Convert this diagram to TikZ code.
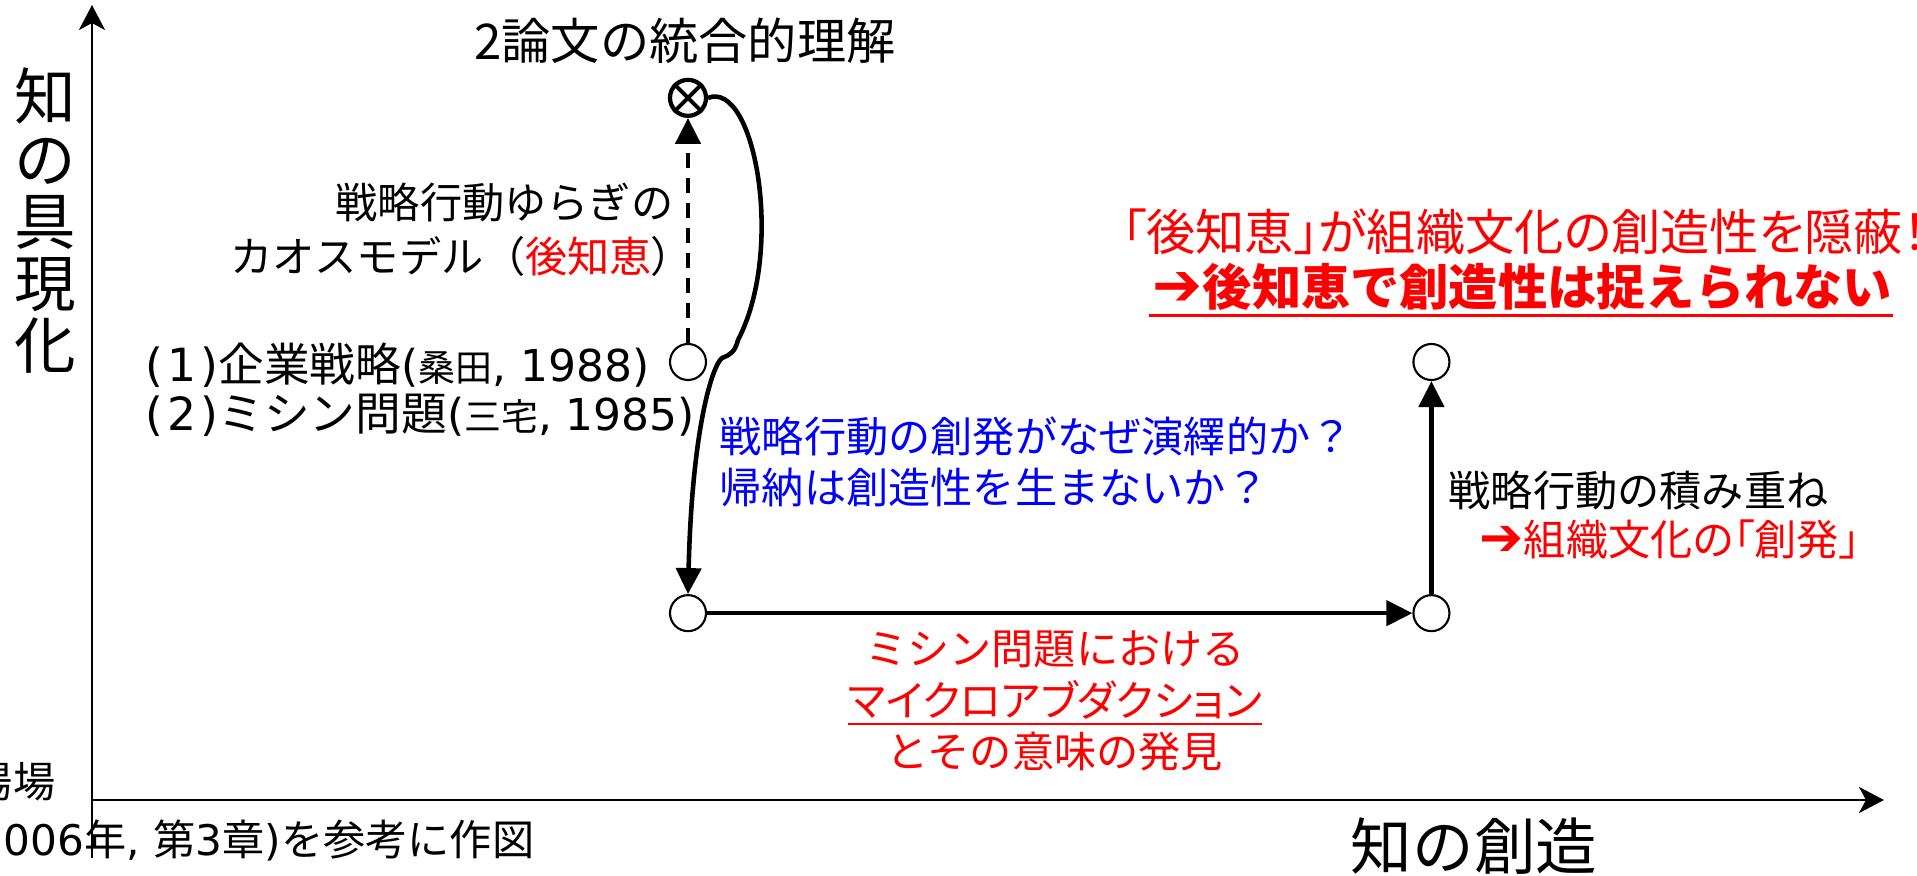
\documentclass[tikz,border=0pt]{standalone}
\usepackage{fontspec}
\setmainfont{Noto Sans CJK JP}
\newfontfamily\pj{Noto Sans CJK JP}[RawFeature=+palt]
\newfontfamily\arr{DejaVu Sans}
\usetikzlibrary{arrows.meta,positioning}
\newcommand{\fsz}[2]{\fontsize{#1}{#2}\selectfont}
\newcommand{\refnote}[2]{{\arr\fsz{12.5pt}{14pt}(}{\fsz{10.5pt}{14pt}#1}{\arr\fsz{12.5pt}{14pt}, #2)}}
\newcommand{\bigarr}[1]{{\arr\fontsize{#1}{#1}\selectfont ➔}}

\tikzset{
  axis/.style={line width=0.75pt, -{Stealth[length=0.25cm,width=0.26cm,inset=0.07cm]}},
  pt/.style={shape=circle, draw, line width=0.6pt, minimum size=0.36cm, inner sep=0pt},
  goal/.style={shape=circle, draw, line width=1.2pt, minimum size=0.36cm, inner sep=0pt},
  link/.style={line width=1.3pt, -{Triangle[length=0.26cm,width=0.25cm]}},
  lbl/.style={inner sep=0pt, font=\fsz{12pt}{14.5pt}},
}

\begin{document}
\begin{tikzpicture}[x=0.01cm, y=-0.01cm, node distance=2.51cm]
\useasboundingbox (0,0) rectangle (1917,876);

% axes
\coordinate (O) at (92,800);
\coordinate (ybot) at (92,858);
\coordinate (ytop) at (92,5);
\coordinate (xend) at (1884,800);
\draw[axis] (ybot) -- (ytop);
\draw[axis] (O) -- (xend);
\node[lbl, font=\fsz{17.5pt}{17.7pt}, align=center] (ylab) at (45,221) {知\\の\\具\\現\\化};
\node[lbl, font=\fsz{17.5pt}{20pt}] (xlab) at (1474,846) {知の創造};

% points
\node[pt] (A) at (688,362) {};
\node[goal, above of=A, node distance=2.64cm] (X) {};
\draw[line width=1.1pt] (X.45) -- (X.225) (X.135) -- (X.315);
\node[pt, below of=A] (B) {};
\node[pt, right of=B, node distance=7.43cm] (C) {};
\node[pt, above of=C] (D) {};

\coordinate (bend) at (738,340);
\coordinate (hook) at (722,358);

\draw[link, dash pattern=on 0.15cm off 0.1cm] (A) -- (X);
\draw[link] (X.east) .. controls (755,80) and (785,250) .. (bend)
  .. controls (735,352) and (730,355) .. (hook)
  .. controls (712,366) and (692,430) .. (B.north);
\draw[link] (B) -- (C);
\draw[link] (C) -- (D);

% labels
\node[lbl, font=\fsz{14pt}{16pt}] (title) at (685,41) {2論文の統合的理解};
\node[lbl, align=right, anchor=east, font=\fsz{12pt}{15.4pt}] (chaos) at (674,230)
  {戦略行動ゆらぎの\\カオスモデル（\textcolor{red}{後知恵}{\pj ）}};
\node[lbl, align=left, anchor=west, font=\fsz{13pt}{14pt}] (refs) at (145,390)
  {{\arr (\hspace{0.04cm}1\hspace{0.04cm})}企業戦略\refnote{桑田}{1988}\\{\arr (\hspace{0.04cm}2\hspace{0.04cm})}ミシン問題\refnote{三宅}{1985}};
\node[lbl, align=left, anchor=west, text=blue] (why) at (719,462)
  {戦略行動の創発がなぜ演繹的か？\\帰納は創造性を生まないか？};
\node[lbl, align=center, text=red, font=\fsz{12pt}{14.6pt}] (micro) at (1055,701)
  {ミシン問題における\\{\pj\underline{マイクロアブダクション}}\\とその意味の発見};
\node[lbl, align=left, anchor=west, font=\fsz{12pt}{14.2pt}] (pile) at (1448,515)
  {戦略行動の積み重ね\\\hspace*{0.31cm}\textcolor{red}{\bigarr{15pt}\pj 組織文化の「創発」}};

% top right
\node[lbl, anchor=west, text=red, font=\fsz{14pt}{16pt}] (hide) at (1121,232)
  {\pj 「後知恵」が組織文化の創造性を隠蔽！};
\node[lbl, anchor=west, text=red, font=\bfseries\fsz{14pt}{16pt}] (blind) at (1152,287)
  {\bigarr{17pt}後知恵で創造性は捉えられない};
\draw[red, line width=0.9pt] ([xshift=-0.03cm, yshift=-0.04cm]blind.south west)
  -- ([yshift=-0.04cm]blind.south east);

% source
\node[lbl, anchor=east] (src1) at (56,782) {揚場};
\node[lbl, anchor=east] (src2) at (535,840) {{\arr (2006}年{\arr , }第{\arr 3}章{\arr )}を参考に作図};
\end{tikzpicture}
\end{document}
